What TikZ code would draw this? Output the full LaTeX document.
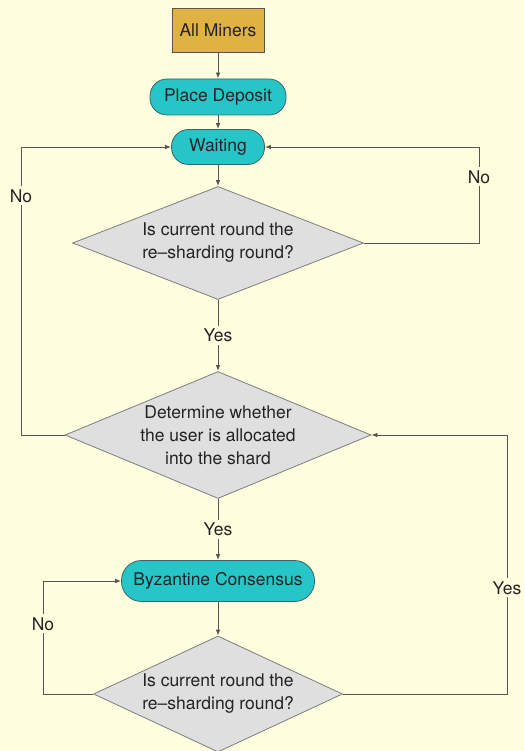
\documentclass[tikz,border=0pt]{standalone}
\usepackage{fontspec}
\setmainfont{TeX Gyre Heros}
\usetikzlibrary{shapes.geometric,arrows.meta}
\newlength{\du}
\setlength{\du}{1pt}

\definecolor{bgcolor}{RGB}{255,255,224}
\definecolor{goldfill}{RGB}{224,178,66}
\definecolor{goldline}{RGB}{95,85,60}
\definecolor{tealfill}{RGB}{38,198,200}
\definecolor{tealline}{RGB}{60,100,100}
\definecolor{askfill}{RGB}{223,223,223}
\definecolor{askline}{RGB}{125,125,125}
\definecolor{flowline}{RGB}{85,85,85}
\definecolor{inktext}{RGB}{35,35,35}

\tikzset{
  base/.style={line width=0.8\du, text=inktext, inner sep=0pt, align=center,
    font=\fontsize{17.5}{23}\selectfont},
  startbox/.style={base, draw=goldline, fill=goldfill},
  roundbox/.style={base, draw=tealline, fill=tealfill},
  askbox/.style={base, diamond, draw=askline, fill=askfill, inner sep=-8\du},
  flow/.style={draw=flowline, line width=0.8\du, -{Latex[length=6pt,width=4.5pt]}},
  answer/.style={fill=bgcolor, inner sep=3\du, text=inktext,
    font=\fontsize{17.5}{23}\selectfont}
}

\begin{document}
\begin{tikzpicture}
\pgftransformxscale{1.000000}
\pgftransformyscale{-1.000000}
\fill[bgcolor] (0\du,0\du) rectangle (524\du,751\du);
\useasboundingbox (0\du,0\du) rectangle (524\du,751\du);
% boxes
\node[startbox, minimum width=92\du, minimum height=44\du] (miners) at (218\du,30\du) {All Miners};
\node[roundbox, rounded corners=17\du, minimum width=136\du, minimum height=36\du] (deposit) at (218\du,97\du) {Place Deposit};
\node[roundbox, rounded corners=17\du, minimum width=93\du, minimum height=35\du] (wait) at (218\du,147\du) {Waiting};
\node[askbox, aspect=2.575, minimum width=291\du, minimum height=113\du] (reshard) at (218\du,243\du) {Is current round the\\re{\char"2013}sharding round?};
\node[askbox, aspect=2.41, minimum width=306\du, minimum height=127\du] (alloc) at (218\du,435\du) {Determine whether\\the user is allocated\\into the shard};
\node[roundbox, rounded corners=20\du, minimum width=193\du, minimum height=41\du] (byz) at (218\du,581\du) {Byzantine Consensus};
\node[askbox, aspect=2.15, minimum width=249\du, minimum height=116\du] (reshardb) at (218\du,694\du) {Is current round the\\re{\char"2013}sharding round?};
% corners of the loops
\coordinate (lefta) at (21\du,435\du);
\coordinate (leftb) at (21\du,147\du);
\coordinate (righta) at (479\du,243\du);
\coordinate (rightb) at (479\du,147\du);
\coordinate (lowla) at (43\du,694\du);
\coordinate (lowlb) at (43\du,581\du);
\coordinate (lowra) at (507\du,694\du);
\coordinate (lowrb) at (507\du,435\du);
% connectors
\draw[flow] (miners) -- (deposit);
\draw[flow] (deposit) -- (wait);
\draw[flow] (wait) -- (reshard);
\draw[flow] (reshard) -- node[answer]{Yes} (alloc);
\draw[flow] (alloc) -- node[answer]{Yes} (byz);
\draw[flow] (byz) -- (reshardb);
\draw[flow] (alloc.west) -- (lefta) -- node[answer, pos=0.83]{No} (leftb) -- (wait.west);
\draw[flow] (reshard.east) -- (righta) -- node[answer, pos=0.69]{No} (rightb) -- (wait.east);
\draw[flow] (reshardb.west) -- (lowla) -- node[answer, pos=0.62]{No} (lowlb) -- (byz.west);
\draw[flow] (reshardb.east) -- (lowra) -- node[answer, pos=0.41]{Yes} (lowrb) -- (alloc.east);
\end{tikzpicture}
\end{document}
